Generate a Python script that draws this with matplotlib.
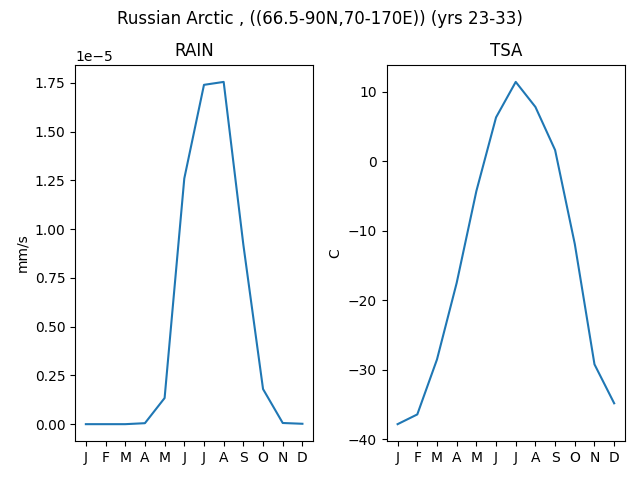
import matplotlib
matplotlib.use("Agg")
import matplotlib.pyplot as plt

months = ["J", "F", "M", "A", "M", "J", "J", "A", "S", "O", "N", "D"]
rain = [0.0, 0.0, 0.0, 0.005e-5, 0.134e-5, 1.26e-5, 1.74e-5, 1.755e-5,
        0.92e-5, 0.18e-5, 0.006e-5, 0.002e-5]
tsa = [-37.8, -36.4, -28.5, -17.5, -4.3, 6.3, 11.4, 7.8, 1.6, -11.9, -29.2, -34.8]

fig, (ax1, ax2) = plt.subplots(1, 2, figsize=(6.4, 4.8), dpi=100)
fig.suptitle("Russian Arctic , ((66.5-90N,70-170E)) (yrs 23-33)")

x = range(len(months))
ax1.plot(x, rain)
ax1.set_title("RAIN")
ax1.set_ylabel("mm/s")
ax1.set_xticks(list(x))
ax1.set_xticklabels(months)

ax2.plot(x, tsa)
ax2.set_title("TSA")
ax2.set_ylabel("C")
ax2.set_xticks(list(x))
ax2.set_xticklabels(months)

fig.tight_layout()
fig.subplots_adjust(top=0.865)
fig.savefig("out.png")
